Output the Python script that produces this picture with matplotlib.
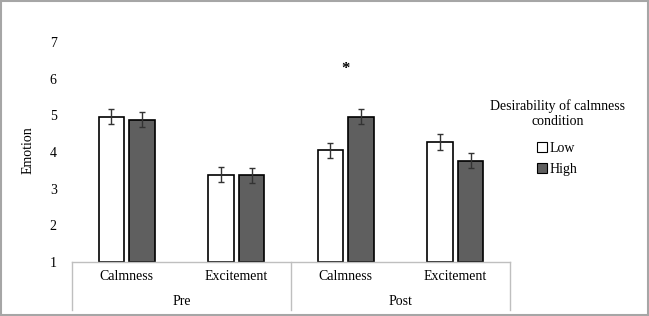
import matplotlib
matplotlib.use('Agg')
import matplotlib.pyplot as plt
from matplotlib.patches import Patch, Rectangle
import numpy as np

plt.rcParams['font.family'] = ['Liberation Serif', 'DejaVu Serif']

# data
groups = ['Pre', 'Post']
categories = ['Calmness', 'Excitement', 'Calmness', 'Excitement']
low_means = [4.96, 3.38, 4.05, 4.27]
low_err = [0.20, 0.21, 0.20, 0.21]
high_means = [4.88, 3.36, 4.96, 3.76]
high_err = [0.20, 0.21, 0.20, 0.20]
series_labels = ['Low', 'High']
legend_title = 'Desirability of calmness\ncondition'
y_ticks = [1, 2, 3, 4, 5, 6, 7]

low_color = 'white'
high_color = '#5f5f5f'
line_grey = '#bfbfbf'
fs = 10

fig = plt.figure(figsize=(6.49, 3.16), dpi=100)
ax = fig.add_axes([72 / 649, 54 / 316, 438 / 649, 220 / 316])

x = np.arange(len(categories))
w = 0.23
off = 0.14
ax.bar(x - off, np.array(low_means) - 1, w, bottom=1, color=low_color,
       edgecolor='black', linewidth=1.2, zorder=2)
ax.bar(x + off, np.array(high_means) - 1, w, bottom=1, color=high_color,
       edgecolor='black', linewidth=1.2, zorder=2)
ax.errorbar(x - off, low_means, yerr=low_err, fmt='none', ecolor='#333333',
            elinewidth=1, capsize=2.3, capthick=1, zorder=3)
ax.errorbar(x + off, high_means, yerr=high_err, fmt='none', ecolor='#333333',
            elinewidth=1, capsize=2.3, capthick=1, zorder=3)

ax.set_xlim(-0.5, len(categories) - 0.5)
ax.set_ylim(1, 7)
ax.set_yticks(y_ticks)
ax.tick_params(axis='y', length=0, pad=11, labelsize=fs)
ax.set_xticks(x)
ax.set_xticklabels(categories)
ax.tick_params(axis='x', length=0, pad=6, labelsize=fs)
for s in ['top', 'right', 'left']:
    ax.spines[s].set_visible(False)
ax.spines['bottom'].set_color(line_grey)
ax.spines['bottom'].set_linewidth(1)

# two-level category table lines
depth = 48 / 220
for xv in [0, 0.5, 1]:
    ax.plot([xv, xv], [0, -depth], transform=ax.transAxes, color=line_grey,
            lw=1, clip_on=False)
for i, g in enumerate(groups):
    ax.text(0.25 + 0.5 * i, -39.7 / 220, g, transform=ax.transAxes,
            ha='center', va='center', fontsize=fs)

# significance marker
ax.text(2, 6.27, '*', ha='center', va='center', fontsize=12, fontweight='bold')

fig.text(28 / 649, 1 - 150 / 316, 'Emotion', rotation=90, ha='center',
         va='center', fontsize=fs)

handles = [Patch(facecolor=low_color, edgecolor='black', lw=0.8),
           Patch(facecolor=high_color, edgecolor='black', lw=0.8)]
leg = fig.legend(handles, series_labels, title=legend_title, loc='upper center',
                 bbox_to_anchor=(0.859, 0.724), frameon=False, fontsize=fs,
                 title_fontsize=fs, handlelength=0.7, handleheight=0.7,
                 handletextpad=0.2, labelspacing=0.6)
leg.get_title().set_multialignment('center')
leg._legend_box.sep += 3.6  # a bit more room between title and entries

# outer frame
fig.patches.append(Rectangle((0.001, 0.002), 0.997, 0.995,
                             transform=fig.transFigure, fill=False,
                             edgecolor='#a6a6a6', lw=1.5))

fig.savefig('out.png', dpi=100)
